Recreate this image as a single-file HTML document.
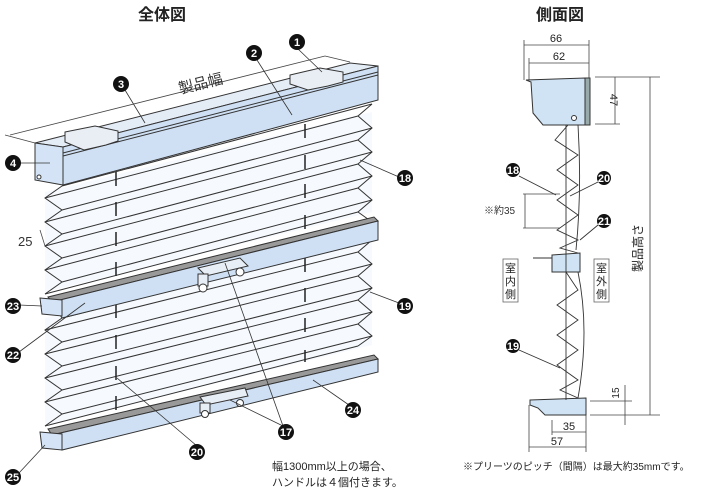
<!DOCTYPE html>
<html><head><meta charset="utf-8"><style>
html,body{margin:0;padding:0;background:#fff;}
svg{display:block;font-family:"Liberation Sans","Noto Sans CJK JP",sans-serif;}
.n circle{fill:#111}
.n text{fill:#fff;font-size:11px;font-weight:bold;text-anchor:middle}
</style></head><body>
<svg width="706" height="494" viewBox="0 0 706 494" xmlns="http://www.w3.org/2000/svg">
<text x="162" y="20" font-size="16" font-weight="bold" text-anchor="middle" fill="#222">全体図</text>
<text x="560" y="20" font-size="16" font-weight="bold" text-anchor="middle" fill="#222">側面図</text>

<polygon points="45,192 372,112 372,212 45,292" fill="#f6f9fd"/>
<polygon points="45,318 372,240 372,345 45,425" fill="#f6f9fd"/>
<g stroke="#333" stroke-width="1" fill="none">
<polyline points="62,186 45,198 62,210 45,222 62,234 45,246 62,258 45,270 62,282 45,294"/>
<polyline points="372,104 358,116 372,128 358,140 372,152 358,164 372,176 358,188 372,200 358,212 372,222"/>
<line x1="62" y1="186" x2="372" y2="104"/>
<line x1="45" y1="198" x2="358" y2="116"/>
<line x1="62" y1="210" x2="372" y2="128"/>
<line x1="45" y1="222" x2="358" y2="140"/>
<line x1="62" y1="234" x2="372" y2="152"/>
<line x1="45" y1="246" x2="358" y2="164"/>
<line x1="62" y1="258" x2="372" y2="176"/>
<line x1="45" y1="270" x2="358" y2="188"/>
<line x1="62" y1="282" x2="372" y2="200"/>
<line x1="45" y1="294" x2="358" y2="212"/>
<polyline points="62,318 45,330 62,342 45,354 62,366 45,378 62,390 45,402 62,414 45,426"/>
<polyline points="372,240 358,252 372,264 358,276 372,288 358,300 372,312 358,324 372,336 358,346"/>
<line x1="62" y1="318" x2="372" y2="240"/>
<line x1="45" y1="330" x2="358" y2="252"/>
<line x1="62" y1="342" x2="372" y2="264"/>
<line x1="45" y1="354" x2="358" y2="276"/>
<line x1="62" y1="366" x2="372" y2="288"/>
<line x1="45" y1="378" x2="358" y2="300"/>
<line x1="62" y1="390" x2="372" y2="312"/>
<line x1="45" y1="402" x2="358" y2="324"/>
<line x1="62" y1="414" x2="372" y2="336"/>
<line x1="45" y1="426" x2="358" y2="346"/>
</g>
<g stroke="#222" stroke-width="1.5">
<line x1="116" y1="172" x2="116" y2="186"/><line x1="116" y1="202" x2="116" y2="216"/><line x1="116" y1="232" x2="116" y2="246"/><line x1="116" y1="262" x2="116" y2="276"/>
<line x1="116" y1="304" x2="116" y2="318"/><line x1="116" y1="335" x2="116" y2="349"/><line x1="116" y1="366" x2="116" y2="380"/><line x1="116" y1="396" x2="116" y2="410"/>
<line x1="305" y1="124" x2="305" y2="138"/><line x1="305" y1="155" x2="305" y2="169"/><line x1="305" y1="184" x2="305" y2="198"/><line x1="305" y1="215" x2="305" y2="229"/>
<line x1="305" y1="258" x2="305" y2="272"/><line x1="305" y1="288" x2="305" y2="302"/><line x1="305" y1="318" x2="305" y2="332"/><line x1="305" y1="350" x2="305" y2="362"/>
</g>

<g stroke="#333" stroke-width="1">
<polygon points="35,143 350,63 378,66 63,147" fill="#e4ecf6"/>
<polygon points="63,147 378,66 378,100 63,185" fill="#cfe0f4"/>
<polygon points="35,143 63,147 63,185 35,180" fill="#d4e4f6"/>
<line x1="63" y1="153" x2="378" y2="72"/>
<line x1="63" y1="156" x2="378" y2="75"/>
<polygon points="65,132 95,126 118,131 118,141 106,145 84,150 65,142" fill="#e9eef4"/>
<polygon points="290,75 320,68 343,72 343,82 328,86 308,90 290,84" fill="#e9eef4"/>
<circle cx="39" cy="177" r="2" fill="#fff"/>
</g>
<g stroke="#444" stroke-width="0.8" fill="none">
<line x1="10" y1="135" x2="325" y2="56"/>
<line x1="5" y1="135" x2="35" y2="143"/>
<line x1="325" y1="56" x2="350" y2="62"/>
</g>
<text x="180" y="94" font-size="15" fill="#333" transform="rotate(-14 180 94)">製品幅</text>
<text x="18" y="246" font-size="13" fill="#333">25</text>
<line x1="40" y1="230" x2="45" y2="246" stroke="#444" stroke-width="0.8"/>

<g stroke="#333" stroke-width="1">
<polygon points="48,297 374,217 378,221 52,302" fill="#999"/>
<polygon points="52,302 378,221 378,240 62,318" fill="#cfe0f4"/>
<polygon points="40,298 62,300 62,316 42,314" fill="#d4e4f6"/>
<polygon points="198,268 240,258 248,266 206,276" fill="#e8eef5"/>
<rect x="198" y="274" width="10" height="12" fill="#e8eef5"/>
<circle cx="203" cy="288" r="4" fill="#fff"/><circle cx="240" cy="272" r="4" fill="#fff"/>
</g>
<g stroke="#333" stroke-width="1">
<polygon points="48,429 374,355 378,359 52,435" fill="#999"/>
<polygon points="52,435 378,359 378,372 62,450" fill="#cfe0f4"/>
<polygon points="40,432 62,434 62,450 42,448" fill="#d4e4f6"/>
<polygon points="200,397 245,388 248,396 206,405" fill="#e8eef5"/>
<rect x="200" y="403" width="10" height="10" fill="#e8eef5"/>
<circle cx="205" cy="414" r="3.5" fill="#fff"/><circle cx="240" cy="403" r="3.5" fill="#fff"/>
</g>

<g stroke="#333" stroke-width="0.8">
<line x1="297" y1="48" x2="322" y2="72"/>
<line x1="257" y1="60" x2="292" y2="115"/>
<line x1="125" y1="90" x2="145" y2="123"/>
<line x1="19" y1="163" x2="50" y2="163"/>
<line x1="399" y1="177" x2="360" y2="160"/>
<line x1="399" y1="303" x2="370" y2="292"/>
<line x1="19" y1="305" x2="42" y2="306"/>
<line x1="19" y1="352" x2="85" y2="303"/>
<line x1="197" y1="446" x2="117" y2="378"/>
<line x1="283" y1="426" x2="225" y2="263"/>
<line x1="283" y1="426" x2="230" y2="400"/>
<line x1="349" y1="405" x2="313" y2="380"/>
<line x1="19" y1="473" x2="45" y2="445"/>
</g>
<g class="n">
<circle cx="297" cy="42" r="8"/><text x="297" y="46">1</text>
<circle cx="254" cy="53" r="8"/><text x="254" y="57">2</text>
<circle cx="121" cy="84" r="8"/><text x="121" y="88">3</text>
<circle cx="13" cy="163" r="8"/><text x="13" y="167">4</text>
<circle cx="405" cy="178" r="8"/><text x="405" y="182">18</text>
<circle cx="405" cy="306" r="8"/><text x="405" y="310">19</text>
<circle cx="13" cy="306" r="8"/><text x="13" y="310">23</text>
<circle cx="13" cy="355" r="8"/><text x="13" y="359">22</text>
<circle cx="197" cy="452" r="8"/><text x="197" y="456">20</text>
<circle cx="286" cy="432" r="8"/><text x="286" y="436">17</text>
<circle cx="353" cy="410" r="8"/><text x="353" y="414">24</text>
<circle cx="13" cy="477" r="8"/><text x="13" y="481">25</text>
<circle cx="513" cy="170" r="7"/><text x="513" y="174" font-size="9">18</text>
<circle cx="604" cy="178" r="7"/><text x="604" y="182" font-size="9">20</text>
<circle cx="604" cy="221" r="7"/><text x="604" y="225" font-size="9">21</text>
<circle cx="513" cy="346" r="7"/><text x="513" y="350" font-size="9">19</text>
</g>
<text x="272" y="470" font-size="11" fill="#222">幅1300mm以上の場合、</text>
<text x="272" y="486" font-size="11" fill="#222">ハンドルは４個付きます。</text>

<g stroke="#444" stroke-width="0.8" fill="none">
<line x1="524" y1="45" x2="589" y2="45"/><line x1="529" y1="63" x2="589" y2="63"/>
<line x1="524" y1="40" x2="524" y2="80"/><line x1="529" y1="58" x2="529" y2="80"/><line x1="589" y1="40" x2="589" y2="80"/>
<line x1="595" y1="77" x2="660" y2="77"/><line x1="595" y1="124" x2="620" y2="124"/>
<line x1="615" y1="77" x2="615" y2="124"/>
<line x1="650" y1="77" x2="650" y2="415"/>
<line x1="590" y1="401" x2="632" y2="401"/><line x1="590" y1="415" x2="660" y2="415"/>
<line x1="625" y1="385" x2="625" y2="425"/>
<line x1="552" y1="420" x2="552" y2="435"/><line x1="586" y1="405" x2="586" y2="452"/><line x1="529" y1="405" x2="529" y2="452"/>
<line x1="552" y1="432" x2="586" y2="432"/><line x1="529" y1="447" x2="586" y2="447"/>
<line x1="523" y1="194" x2="560" y2="194"/><line x1="523" y1="228" x2="560" y2="228"/>
<line x1="525" y1="194" x2="525" y2="228"/>
</g>
<text x="556" y="42" font-size="11" text-anchor="middle" fill="#222">66</text>
<text x="559" y="60" font-size="11" text-anchor="middle" fill="#222">62</text>
<text x="610" y="100" font-size="11" text-anchor="middle" fill="#222" transform="rotate(90 610 100)">47</text>
<text x="642" y="248" font-size="12" text-anchor="middle" fill="#222" transform="rotate(-90 642 248)">製品高さ</text>
<text x="619" y="393" font-size="10" text-anchor="middle" fill="#222" transform="rotate(-90 619 393)">15</text>
<text x="569" y="430" font-size="11" text-anchor="middle" fill="#222">35</text>
<text x="557" y="445" font-size="11" text-anchor="middle" fill="#222">57</text>
<text x="484" y="214" font-size="10" fill="#333">※約35</text>
<g stroke="#333" stroke-width="1">
<path d="M526,80 L585,78 L585,125 L543,125 L533,113 L531,82 Z" fill="#cfe3f5"/>
<path d="M585,78 L590,78 L590,125 L585,125 Z" fill="#9aa"/>
<circle cx="574" cy="118" r="2.5" fill="#fff"/>
<path d="M552,255 L580,253 L580,272 L552,272 Z" fill="#cfe3f5"/>
<line x1="533" y1="258" x2="552" y2="258"/>
<path d="M530,400 L586,398 L586,415 L545,415 L538,408 L530,405 Z" fill="#cfe3f5"/>
</g>
<g stroke="#333" stroke-width="0.9" fill="none">
<polyline points="568,125 555,140 578,155 557,170 578,185 557,200 578,215 557,230 578,240 560,248 578,253"/>
<polyline points="566,272 578,290 557,305 578,320 557,335 578,350 557,365 578,380 560,390 578,398"/>
<line x1="566" y1="125" x2="566" y2="400"/>
<path d="M578,125 Q582,190 576,250 M578,272 Q590,330 578,398"/>
<line x1="519" y1="176" x2="556" y2="195"/>
<line x1="598" y1="182" x2="570" y2="196"/>
<line x1="598" y1="225" x2="580" y2="240"/>
<line x1="519" y1="350" x2="560" y2="368"/>
</g>
<rect x="503" y="259" width="15" height="43" fill="#fff" stroke="#666" stroke-width="0.8"/>
<text x="510.5" y="272" font-size="11" text-anchor="middle" fill="#222">室</text>
<text x="510.5" y="285" font-size="11" text-anchor="middle" fill="#222">内</text>
<text x="510.5" y="298" font-size="11" text-anchor="middle" fill="#222">側</text>
<rect x="594" y="259" width="15" height="43" fill="#fff" stroke="#666" stroke-width="0.8"/>
<text x="601.5" y="272" font-size="11" text-anchor="middle" fill="#222">室</text>
<text x="601.5" y="285" font-size="11" text-anchor="middle" fill="#222">外</text>
<text x="601.5" y="298" font-size="11" text-anchor="middle" fill="#222">側</text>
<text x="463" y="470" font-size="10" fill="#222">※プリーツのピッチ（間隔）は最大約35mmです。</text>
</svg>
</body></html>
